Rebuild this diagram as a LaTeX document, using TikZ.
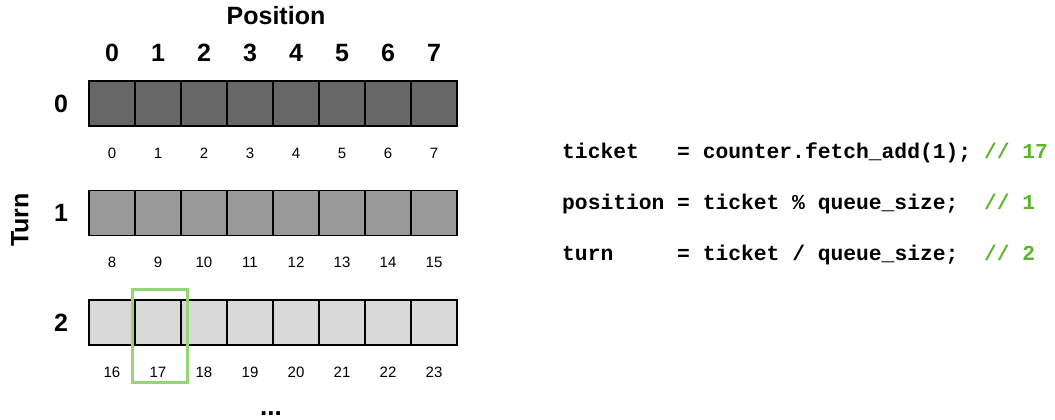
\documentclass[tikz,border=0pt]{standalone}
\usepackage{fontspec}
\setsansfont{Liberation Sans}
\setmonofont{Liberation Mono}
\usetikzlibrary{positioning}

\definecolor{row0}{RGB}{102,102,102}
\definecolor{row1}{RGB}{153,153,153}
\definecolor{row2}{RGB}{217,217,217}
\definecolor{codegreen}{RGB}{92,182,44}
\definecolor{hlgreen}{RGB}{150,212,120}

\begin{document}
\begin{tikzpicture}[
                x=1pt, y=-1pt,
                font=\sffamily,
                % Stile per le celle della coda
                cell/.style={
                    draw,
                    line width=1.2pt,
                    minimum width=46pt,
                    minimum height=45pt,
                    inner sep=0pt,
                    outer sep=0pt
                },
                big/.style={font=\sffamily\bfseries\fontsize{25}{30}\selectfont, inner sep=0pt},
                idx/.style={font=\sffamily\fontsize{15}{18}\selectfont, inner sep=0pt},
                code/.style={font=\ttfamily\bfseries\fontsize{21.3}{25}\selectfont, anchor=base west, inner sep=0pt},
                hl/.style={draw=hlgreen, line width=3pt}
            ]

                \useasboundingbox (0,0) rectangle (1055,420);

                % --- Intestazioni ---
                \node[big] (title) at (276,16) {Position};
                \node[big, rotate=90] (turn) at (20,220) {Turn};

                % --- Celle, indici e numeri di riga ---
                \foreach \r/\shade in {0/row0,1/row1,2/row2} {
                    \node[big] (t\r) at (61,{103.5+109.5*\r}) {\r};
                    \foreach \c in {0,...,7} {
                        \pgfmathtruncatemacro\idx{8*\r+\c}
                        \node[cell, fill=\shade] (c\r\c) at ({112+46*\c},{103.5+109.5*\r}) {};
                        \node[idx] (n\idx) at ({112+46*\c},{153+109.5*\r}) {\idx};
                    }
                }
                \foreach \c in {0,...,7}
                    \node[big] (p\c) at ({112+46*\c},53) {\c};

                % Evidenziatore verde (ticket 17)
                \draw[hl] ([shift={(-3,-11)}]c21.north west) rectangle ([shift={(6,37)}]c21.south east);

                \node[font=\sffamily\bfseries\fontsize{26}{30}\selectfont, inner sep=0pt, anchor=base] (dots) at (271,415) {...};

                % --- Codice ---
                \node[code] (l1) at (562,158) {ticket\ \ \ = counter.fetch\_add(1);\ \textcolor{codegreen}{//\ 17}};
                \node[code] (l2) at (562,209) {position = ticket \% queue\_size;\ \ \textcolor{codegreen}{//\ 1}};
                \node[code] (l3) at (562,260) {turn\ \ \ \ \ = ticket / queue\_size;\ \ \textcolor{codegreen}{//\ 2}};

            \end{tikzpicture}
\end{document}
